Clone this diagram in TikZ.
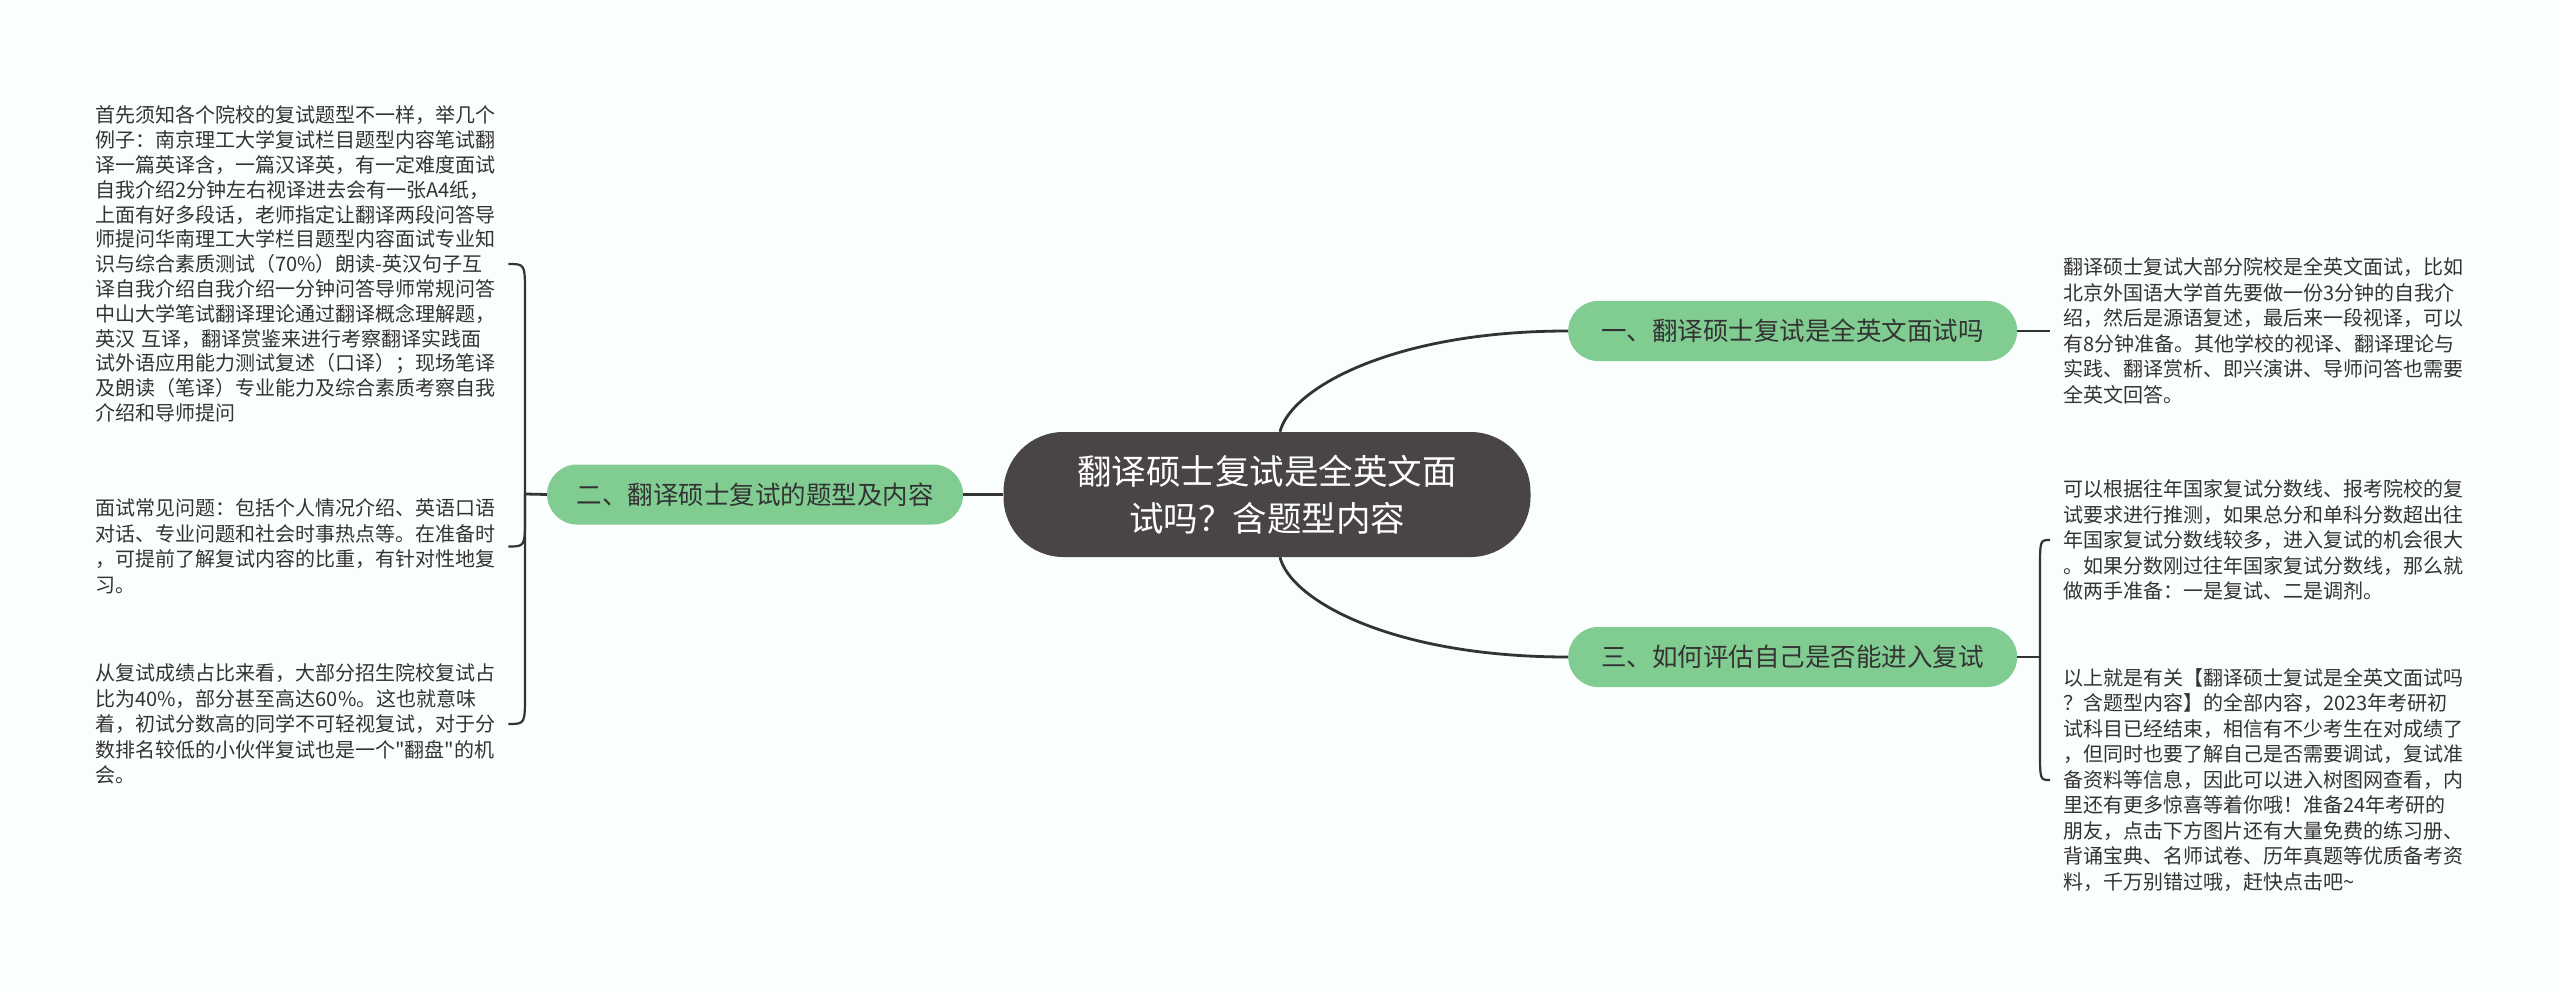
\documentclass[tikz,border=0pt]{standalone}
\usepackage{fontspec}
\newfontfamily\cjk{Noto Sans CJK SC}
\usetikzlibrary{positioning,calc}
\definecolor{topicDark}{HTML}{4A4545}
\definecolor{branchGreen}{HTML}{80CC91}
\definecolor{inkGray}{HTML}{333333}
\definecolor{paperWhite}{HTML}{FBFEFE}

\begin{document}
\begin{tikzpicture}[x=1pt,y=-1pt,
  topicbox/.style={fill=topicDark,rounded corners=60pt,minimum width=527pt,minimum height=125pt,
    text=white,align=center,font=\cjk\fontsize{34.5}{47}\selectfont},
  branchbox/.style={fill=branchGreen,rounded corners=30pt,minimum height=60pt,minimum width=449pt,
    text=inkGray,font=\cjk\fontsize{25.5}{30}\selectfont},
  note/.style={align=left,text width=400pt,inner xsep=13pt,inner ysep=2pt,text=inkGray,
    font=\cjk\fontsize{20}{25.5}\selectfont},
  link/.style={draw=inkGray,line width=2.8pt},
  brace/.style={draw=inkGray,line width=2.2pt}]
\fill[paperWhite] (0,0) rectangle (2560,992);
\useasboundingbox (0,0) rectangle (2560,992);
\node[topicbox] (topic) at (1267,494.5) {翻译硕士复试是全英文面\\试吗？含题型内容};
\node[branchbox,anchor=west] (english) at (1568,331) {一、翻译硕士复试是全英文面试吗};
\node[branchbox,anchor=west] (assess) at (1568,657) {三、如何评估自己是否能进入复试};
\node[branchbox,minimum width=416pt,left=40pt of topic] (types) {二、翻译硕士复试的题型及内容};
\node[note,anchor=west] (englishtxt) at (2050,331) {翻译硕士复试大部分院校是全英文面试，比如\\北京外国语大学首先要做一份3分钟的自我介\\绍，然后是源语复述，最后来一段视译，可以\\有8分钟准备。其他学校的视译、翻译理论与\\实践、翻译赏析、即兴演讲、导师问答也需要\\全英文回答。};
\node[note,anchor=west] (assesstxta) at (2050,540) {可以根据往年国家复试分数线、报考院校的复\\试要求进行推测，如果总分和单科分数超出往\\年国家复试分数线较多，进入复试的机会很大\\。如果分数刚过往年国家复试分数线，那么就\\做两手准备：一是复试、二是调剂。};
\node[note,anchor=west] (assesstxtb) at (2050,780) {以上就是有关【翻译硕士复试是全英文面试吗\\？含题型内容】的全部内容，2023年考研初\\试科目已经结束，相信有不少考生在对成绩了\\，但同时也要了解自己是否需要调试，复试准\\备资料等信息，因此可以进入树图网查看，内\\里还有更多惊喜等着你哦！准备24年考研的\\朋友，点击下方图片还有大量免费的练习册、\\背诵宝典、名师试卷、历年真题等优质备考资\\料，千万别错过哦，赶快点击吧\textasciitilde};
\node[note,anchor=west,font=\cjk\fontsize{20}{24.8}\selectfont] (typestxta) at (82,264) {首先须知各个院校的复试题型不一样，举几个\\例子：南京理工大学复试栏目题型内容笔试翻\\译一篇英译含，一篇汉译英，有一定难度面试\\自我介绍2分钟左右视译进去会有一张A4纸，\\上面有好多段话，老师指定让翻译两段问答导\\师提问华南理工大学栏目题型内容面试专业知\\识与综合素质测试（70\%）朗读-英汉句子互\\译自我介绍自我介绍一分钟问答导师常规问答\\中山大学笔试翻译理论通过翻译概念理解题，\\英汉 互译，翻译赏鉴来进行考察翻译实践面\\试外语应用能力测试复述（口译）；现场笔译\\及朗读（笔译）专业能力及综合素质考察自我\\介绍和导师提问};
\node[note,anchor=west] (typestxtb) at (82,546.5) {面试常见问题：包括个人情况介绍、英语口语\\对话、专业问题和社会时事热点等。在准备时\\，可提前了解复试内容的比重，有针对性地复\\习。};
\node[note,anchor=west] (typestxtc) at (82,724) {从复试成绩占比来看，大部分招生院校复试占\\比为40\%，部分甚至高达60\%。这也就意味\\着，初试分数高的同学不可轻视复试，对于分\\数排名较低的小伙伴复试也是一个"翻盘"的机\\会。};
\coordinate (typesjoint) at (525,494);
\coordinate (assessjoint) at (2040,657);
\draw[link] (topic.west)--(types.east);
\draw[link] ([xshift=13pt]topic.north) .. controls ([xshift=23pt,yshift=42pt]topic.north) and ([xshift=-178pt]english.west) .. (english.west);
\draw[link] ([xshift=13pt]topic.south) .. controls ([xshift=23pt,yshift=-42pt]topic.south) and ([xshift=-178pt]assess.west) .. (assess.west);
\draw[link] (english.east)--(englishtxt.west);
\draw[link] (assess.east)--(assessjoint);
\draw[link] (types.west)--(typesjoint);
\draw[brace] (typesjoint)--($(typesjoint |- typestxta.east)+(0,30)$) .. controls (typesjoint |- typestxta.east) .. (typestxta.east);
\draw[brace] (typesjoint)--($(typesjoint |- typestxtb.east)+(0,-30)$) .. controls (typesjoint |- typestxtb.east) .. (typestxtb.east);
\draw[brace] (typesjoint)--($(typesjoint |- typestxtc.east)+(0,-30)$) .. controls (typesjoint |- typestxtc.east) .. (typestxtc.east);
\draw[brace] (assessjoint)--($(assessjoint |- assesstxta.west)+(0,30)$) .. controls (assessjoint |- assesstxta.west) .. (assesstxta.west);
\draw[brace] (assessjoint)--($(assessjoint |- assesstxtb.west)+(0,-30)$) .. controls (assessjoint |- assesstxtb.west) .. (assesstxtb.west);
\end{tikzpicture}
\end{document}
